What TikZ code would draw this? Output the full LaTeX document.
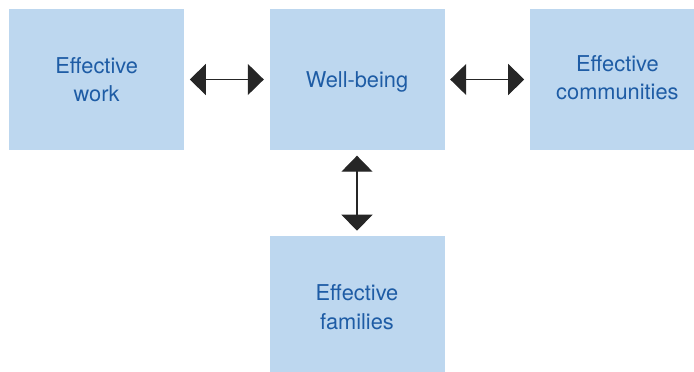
\documentclass[tikz,border=0pt]{standalone}
\usepackage{fontspec}
\setmainfont{TeX Gyre Heros}
\usetikzlibrary{positioning}
\usetikzlibrary{arrows.meta}
\definecolor{boxblue}{RGB}{189,215,239}
\definecolor{textblue}{RGB}{30,92,165}
\colorlet{arrowgrey}{black!85}
\tikzstyle{box}=[fill=boxblue,text=textblue,align=center,inner sep=0,text depth=0pt,minimum width=175pt,minimum height=141pt,font=\fontsize{21.8}{28.5}\selectfont]
\tikzstyle{connect arrow}=[{Triangle[length=16pt,width=31pt]}-{Triangle[length=16pt,width=31pt]},line width=1.2pt,arrowgrey,shorten <=5.5pt,shorten >=5.5pt]

\begin{document}
\begin{tikzpicture}[
    x=1pt,y=-1pt,
    node distance=85pt,]

\useasboundingbox (0,0) rectangle (694,372);

% Centre
\node [box] (B) at (357,79.5) {Well-being};

% Around it
\node [box] (W) [left=of B] {Effective\\work};
\node [box,text depth=4pt] (C) [right=of B] {Effective\\communities};
\node [box] (F) [below=86pt of B] {Effective\\families};

\begin{scope} [connect arrow]
    \draw (W) -- (B) ;
    \draw (B) -- (C) ;
    \draw (B) -- (F) ;
\end{scope}

\end{tikzpicture}
\end{document}
